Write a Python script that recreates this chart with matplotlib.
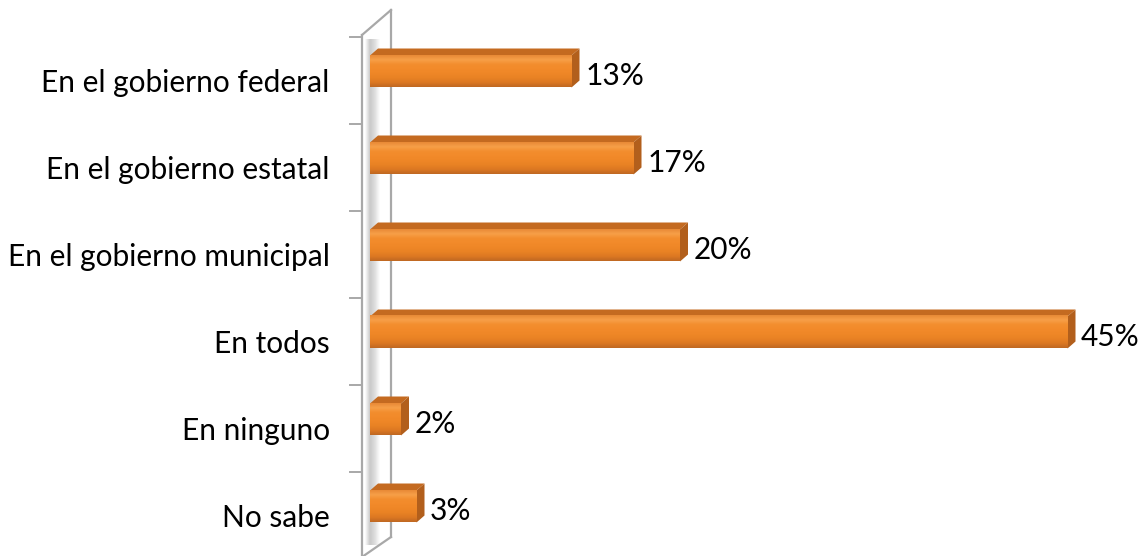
"""Gráfico de barras horizontales estilo 3D: nivel de gobierno."""

import matplotlib
matplotlib.use('Agg')
import matplotlib.pyplot as plt
import numpy as np
from matplotlib.colors import to_rgb
from matplotlib.patches import Polygon

categories = [
    'En el gobierno federal',
    'En el gobierno estatal',
    'En el gobierno municipal',
    'En todos',
    'En ninguno',
    'No sabe',
]
values = [13, 17, 20, 45, 2, 3]

FIG_W, FIG_H = 1138, 556
X0_PX = 370          # pixel donde empieza el eje x
PX_PER_PCT = 15.5
TOP_PX = 37          # borde superior de la primera categoría
PX_PER_CAT = 87

DEPTH_X = 8 / PX_PER_PCT
DEPTH_Y = 7 / PX_PER_CAT
BAR_OFF = -9 / PX_PER_CAT
BAR_HALF = 16 / PX_PER_CAT

FRONT_COLORS = ['#e88a36', '#f79f48', '#f38e2e', '#f28a2a', '#ef8727',
                '#e98224', '#dc7822', '#c06822']
TOP_COLOR = '#c46a20'
SIDE_COLOR = '#b25f1c'
WALL_COLOR = '#a8a8a8'
FONT = ['Lato', 'DejaVu Sans']
FONT_SIZE = 21.5


def px_to_x(px):
    return (px - X0_PX) / PX_PER_PCT


def px_to_y(py):
    return -0.5 + (py - TOP_PX) / PX_PER_CAT


def vertical_gradient(colors, n=64):
    stops = np.array([to_rgb(c) for c in colors])
    pos = np.linspace(0, 1, len(stops))
    t = np.linspace(0, 1, n)
    grad = np.stack([np.interp(t, pos, stops[:, i]) for i in range(3)], axis=1)
    return grad[:, None, :]


def main():
    plt.rcParams['font.family'] = FONT
    fig = plt.figure(figsize=(FIG_W / 100, FIG_H / 100), dpi=100)
    n = len(categories)
    x_max = 49
    bottom_px = TOP_PX + n * PX_PER_CAT
    ax = fig.add_axes([
        X0_PX / FIG_W,
        (FIG_H - bottom_px) / FIG_H,
        x_max * PX_PER_PCT / FIG_W,
        n * PX_PER_CAT / FIG_H,
    ])
    for side in ax.spines.values():
        side.set_visible(False)
    ax.set_xticks([])
    ax.set_yticks(range(n), categories)
    ax.tick_params(axis='y', length=0, pad=29, labelsize=FONT_SIZE)

    # pared lateral
    wl, wr = px_to_x(362), px_to_x(391)
    ax.plot([wl, wl], [px_to_y(35), px_to_y(560)], color=WALL_COLOR, lw=1.6,
            clip_on=False, zorder=1)
    ax.plot([wr, wr], [px_to_y(10), px_to_y(537)], color=WALL_COLOR, lw=1.6,
            clip_on=False, zorder=1)
    ax.plot([wl, wr], [px_to_y(35), px_to_y(10)], color=WALL_COLOR, lw=1.6,
            clip_on=False, zorder=1)
    ax.plot([wr, wl], [px_to_y(537), px_to_y(557)], color=WALL_COLOR, lw=1.6,
            clip_on=False, zorder=1)
    for k in range(n + 1):
        yk = k - 0.5
        ax.plot([px_to_x(350), wl], [yk, yk], color=WALL_COLOR, lw=1.4,
                clip_on=False, zorder=1)
    shade = vertical_gradient(['#ffffff', '#c8c8c8', '#dedede', '#ffffff'])
    shade = np.transpose(shade, (1, 0, 2))
    ax.imshow(shade, extent=(px_to_x(365), px_to_x(380), px_to_y(545), px_to_y(40)),
              aspect='auto', interpolation='bicubic', zorder=0.5, clip_on=False)

    grad = vertical_gradient(FRONT_COLORS)
    for i, v in enumerate(values):
        yt = i + BAR_OFF - BAR_HALF
        yb = i + BAR_OFF + BAR_HALF
        ax.imshow(grad, extent=(0, v, yb, yt), aspect='auto',
                  interpolation='bilinear', zorder=3)
        top = Polygon([(0, yt), (v, yt), (v + DEPTH_X, yt - DEPTH_Y),
                       (DEPTH_X, yt - DEPTH_Y)], closed=True,
                      facecolor=TOP_COLOR, edgecolor='none', zorder=2.5)
        side = Polygon([(v, yt), (v + DEPTH_X, yt - DEPTH_Y),
                        (v + DEPTH_X, yb - DEPTH_Y), (v, yb)], closed=True,
                       facecolor=SIDE_COLOR, edgecolor='none', zorder=2.5)
        ax.add_patch(top)
        ax.add_patch(side)
        ax.annotate(f'{v}%', xy=(v + DEPTH_X, i), xytext=(4, 3),
                    textcoords='offset points', va='center', ha='left',
                    fontsize=FONT_SIZE)

    ax.set_xlim(0, x_max)
    ax.set_ylim(n - 0.5, -0.5)
    fig.savefig('out.png', dpi=100)


if __name__ == '__main__':
    main()
